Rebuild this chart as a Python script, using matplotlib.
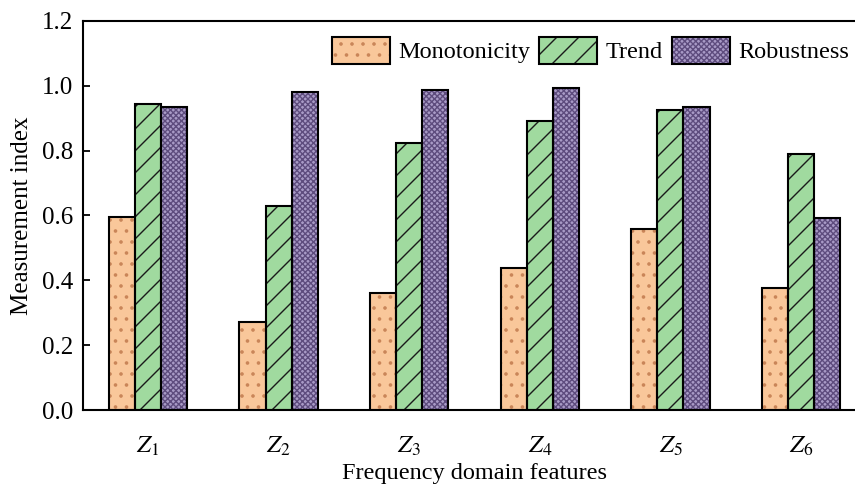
import numpy as np
import matplotlib
matplotlib.use("Agg")
import matplotlib.pyplot as plt
from matplotlib.patches import Patch
from matplotlib.legend_handler import HandlerTuple

features = ["$Z_1$", "$Z_2$", "$Z_3$", "$Z_4$", "$Z_5$", "$Z_6$"]
monotonicity = [0.595, 0.271, 0.360, 0.438, 0.558, 0.376]
trend = [0.944, 0.629, 0.824, 0.891, 0.925, 0.789]
robustness = [0.935, 0.981, 0.987, 0.993, 0.934, 0.592]

# lower dpi so the hatch pattern gets coarser; sizes scaled by S to compensate
DPI = 200 / 3
S = 100 / DPI

plt.rcParams["font.family"] = ["Liberation Serif", "DejaVu Serif"]
plt.rcParams["mathtext.fontset"] = "stix"
plt.rcParams["font.size"] = 18 * S
plt.rcParams["hatch.linewidth"] = 1.0 * S

fig = plt.figure(figsize=(855 / DPI, 495 / DPI), dpi=DPI)
ax = fig.add_axes([0.0967, 0.1717, 0.9165, 0.786])

x = np.arange(len(features))
w = 0.2

# (name, values, face, hatch colour, hatch)
series = [
    ("Monotonicity", monotonicity, "#F9C79A", "#C98558", "."),
    ("Trend", trend, "#A0DA9F", "#1a1a1a", "/"),
    ("Robustness", robustness, "#A89AC6", "#5E4C7E", "xxxx"),
]

handles = []
labels = []
for i, (name, vals, face, hc, hatch) in enumerate(series):
    pos = x + (i - 1) * w
    ax.bar(pos, vals, w, color=face, edgecolor=hc, hatch=hatch, linewidth=0, zorder=2)
    ax.bar(pos, vals, w, fill=False, edgecolor="black", linewidth=1.5 * S, zorder=3)
    handles.append((Patch(facecolor=face, edgecolor=hc, hatch=hatch, linewidth=0),
                    Patch(fill=False, edgecolor="black", linewidth=1.5 * S)))
    labels.append(name)

ax.set_xlim(-0.5, 5.5)
ax.set_ylim(0, 1.2)
ax.set_yticks([0.0, 0.2, 0.4, 0.6, 0.8, 1.0, 1.2])
ax.set_yticklabels(["0.0", "0.2", "0.4", "0.6", "0.8", "1.0", "1.2"])
ax.set_xticks(x)
ax.set_xticklabels(features, fontsize=18 * S)
ax.tick_params(axis="y", direction="in", length=5 * S, width=1.3 * S, pad=7 * S)
ax.tick_params(axis="x", length=0, pad=17.6 * S)
for s in ax.spines.values():
    s.set_linewidth(1.5 * S)
ax.spines["right"].set_visible(False)

ax.set_xlabel("Frequency domain features", fontsize=17.5 * S, labelpad=3.7 * S)
ax.set_ylabel("Measurement index", labelpad=6 * S)

ax.legend(handles, labels, handler_map={tuple: HandlerTuple(ndivide=1)},
          ncol=3, frameon=False, loc="upper right", bbox_to_anchor=(0.9985, 1.0),
          handlelength=2.4, handleheight=1.35, columnspacing=0.35, handletextpad=0.35,
          borderaxespad=0.25, fontsize=17.5 * S)

fig.savefig("out.png", dpi=DPI)
